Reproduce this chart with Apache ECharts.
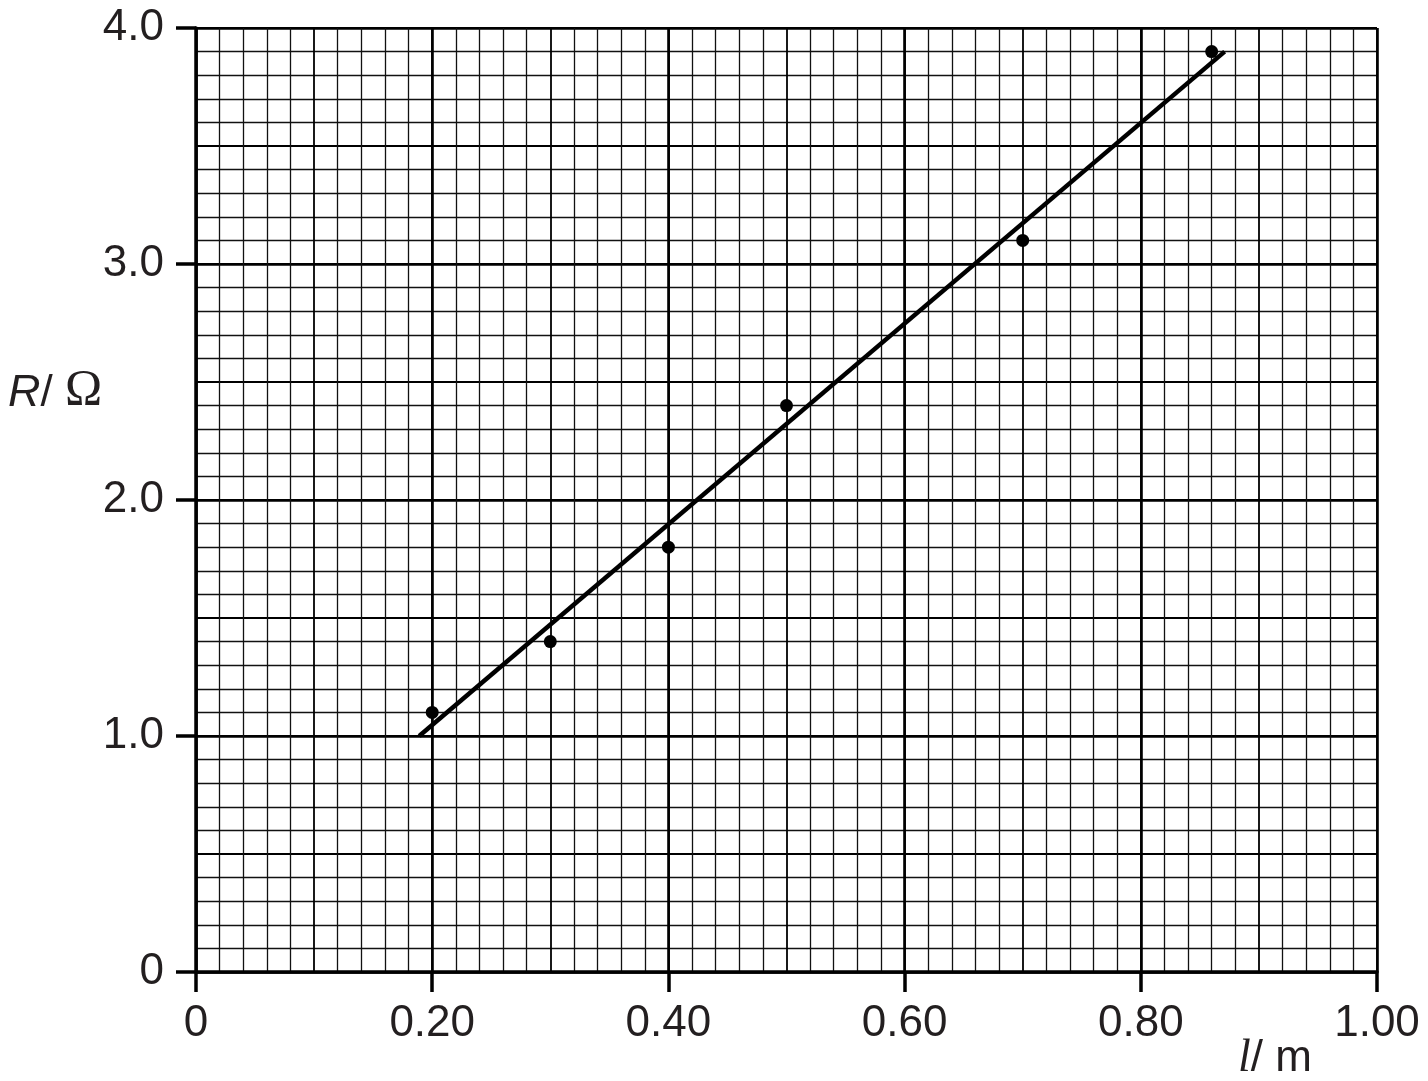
<!DOCTYPE html>
<html>
<head>
<meta charset="utf-8">
<script src="https://cdn.jsdelivr.net/npm/echarts@6/dist/echarts.min.js"></script>
<style>
html,body{margin:0;padding:0;background:#fff;}
#chart{width:1428px;height:1081px;}
</style>
</head>
<body>
<div id="chart"></div>
<script>
// Data
var lengths = [0.20, 0.30, 0.40, 0.50, 0.70, 0.86];
var resistances = [1.10, 1.40, 1.80, 2.40, 3.10, 3.90];
var fitLineX = [0.189, 0.871];
var fitLineY = [1.00, 3.90];
var xTickLabels = ['0', '0.20', '0.40', '0.60', '0.80', '1.00'];
var yTickLabels = ['0', '1.0', '2.0', '3.0', '4.0'];

var chart = echarts.init(document.getElementById('chart'), null, {renderer: 'canvas'});
var font = 'Liberation Sans, Arial, Helvetica, sans-serif';
var serif = 'Liberation Serif, Times New Roman, serif';
var labelColor = '#231f20';

var points = lengths.map(function (x, i) { return [x, resistances[i]]; });
var fit = fitLineX.map(function (x, i) { return [x, fitLineY[i]]; });

var option = {
  backgroundColor: '#fff',
  animation: false,
  grid: {left: 196, right: 51, top: 28, bottom: 109, outerBoundsMode: 'none'},
  xAxis: [
    { // medium lines every 0.10, minor every 0.02
      type: 'value', min: 0, max: 1, interval: 0.1,
      axisLine: {show: false}, axisTick: {show: false}, axisLabel: {show: false},
      splitLine: {show: true, lineStyle: {color: '#000', width: 1.8}},
      minorTick: {show: false, splitNumber: 5},
      minorSplitLine: {show: true, lineStyle: {color: '#111', width: 1.3}}
    },
    { // major lines every 0.20 with labels
      type: 'value', min: 0, max: 1, interval: 0.2, position: 'bottom',
      axisLine: {show: true, onZero: false, lineStyle: {color: '#000', width: 3.5}},
      axisTick: {show: true, length: 20, inside: false, lineStyle: {color: '#000', width: 3.5}},
      axisLabel: {
        show: true, margin: 30, color: labelColor, fontFamily: font, fontSize: 44,
        formatter: function (v) { return xTickLabels[Math.round(v / 0.2)]; }
      },
      splitLine: {show: true, lineStyle: {color: '#000', width: 2.6}}
    }
  ],
  yAxis: [
    { // medium lines every 0.5, minor every 0.1
      type: 'value', min: 0, max: 4, interval: 0.5,
      axisLine: {show: false}, axisTick: {show: false}, axisLabel: {show: false},
      splitLine: {show: true, lineStyle: {color: '#000', width: 1.8}},
      minorTick: {show: false, splitNumber: 5},
      minorSplitLine: {show: true, lineStyle: {color: '#111', width: 1.3}}
    },
    { // major lines every 1.0 with labels
      type: 'value', min: 0, max: 4, interval: 1, position: 'left',
      axisLine: {show: true, onZero: false, lineStyle: {color: '#000', width: 3.5}},
      axisTick: {show: true, length: 20, inside: false, lineStyle: {color: '#000', width: 3.5}},
      axisLabel: {
        show: true, margin: 32, color: labelColor, fontFamily: font, fontSize: 44,
        formatter: function (v) { return yTickLabels[Math.round(v)]; }
      },
      splitLine: {show: true, lineStyle: {color: '#000', width: 2.6}}
    }
  ],
  graphic: [
    {
      type: 'text', left: 8, top: 366, z: 100,
      style: {
        text: '{i|R}{n|/ }{s|Ω}',
        rich: {
          i: {fontFamily: font, fontStyle: 'italic', fontSize: 45, fill: labelColor, verticalAlign: 'bottom'},
          n: {fontFamily: font, fontSize: 44, fill: labelColor, verticalAlign: 'bottom'},
          s: {fontFamily: serif, fontSize: 50, fill: labelColor, verticalAlign: 'bottom'}
        }
      }
    },
    {
      type: 'text', left: 1238, top: 1036, z: 100,
      style: {
        text: '{i|l}{n|/ m}',
        rich: {
          i: {fontFamily: serif, fontStyle: 'italic', fontSize: 46, fill: labelColor},
          n: {fontFamily: font, fontSize: 44, fill: labelColor}
        }
      }
    }
  ],
  series: [
    {
      name: 'best fit', type: 'line', xAxisIndex: 1, yAxisIndex: 1,
      data: fit, showSymbol: false, symbol: 'none',
      lineStyle: {color: '#000', width: 4.5, cap: 'butt'}, z: 5, silent: true
    },
    {
      name: 'R vs l', type: 'scatter', xAxisIndex: 1, yAxisIndex: 1,
      data: points, symbol: 'circle', symbolSize: 13,
      itemStyle: {color: '#000', opacity: 1}, z: 6
    }
  ]
};
chart.setOption(option);
</script>
</body>
</html>
